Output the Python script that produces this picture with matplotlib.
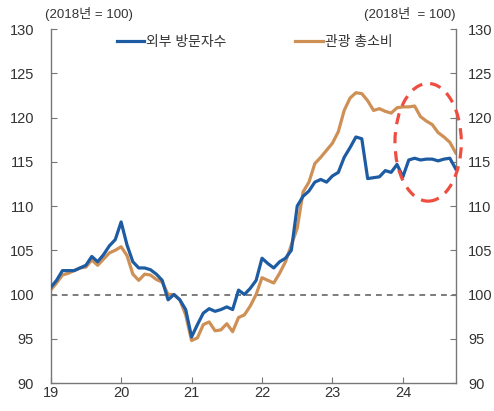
import matplotlib
matplotlib.use("Agg")
import matplotlib.pyplot as plt
import matplotlib.transforms as mtransforms
from matplotlib.patches import Ellipse
import numpy as np

plt.rcParams['font.family'] = ['Liberation Sans', 'Noto Sans CJK KR', 'DejaVu Sans']

# Monthly index, Jan 2019 .. Oct 2024 (2018 = 100)
visitors = [100.8, 101.6, 102.7, 102.7, 102.7, 103.0, 103.3, 104.3, 103.7, 104.5,
            105.5, 106.2, 108.2, 105.6, 103.7, 103.0, 103.0, 102.8, 102.3, 101.6,
            99.4, 100.0, 99.4, 98.3, 95.2, 96.6, 97.9, 98.4, 98.1, 98.3,
            98.6, 98.3, 100.5, 100.0, 100.7, 101.6, 104.1, 103.5, 103.0, 103.7,
            104.1, 105.0, 110.0, 111.1, 111.7, 112.7, 113.0, 112.7, 113.4, 113.8,
            115.5, 116.6, 117.8, 117.6, 113.1, 113.2, 113.3, 114.0, 113.8, 114.7,
            113.3, 115.2, 115.4, 115.2, 115.3, 115.3, 115.1, 115.3, 115.4, 114.2]
consumption = [100.5, 101.3, 102.2, 102.4, 102.7, 103.0, 103.1, 103.9, 103.3, 104.0,
               104.7, 105.0, 105.4, 104.4, 102.3, 101.6, 102.3, 102.2, 101.7, 101.4,
               100.0, 100.0, 99.4, 97.7, 94.8, 95.1, 96.6, 96.9, 95.9, 96.0,
               96.7, 95.8, 97.4, 97.7, 98.7, 100.0, 101.9, 101.6, 101.3, 102.4,
               103.7, 105.6, 107.5, 111.6, 112.7, 114.8, 115.5, 116.3, 117.1, 118.4,
               120.8, 122.2, 122.8, 122.7, 121.9, 120.8, 121.0, 120.7, 120.5, 121.1,
               121.2, 121.2, 121.3, 120.1, 119.6, 119.2, 118.3, 117.8, 117.2, 116.0]
year_labels = ['19', '20', '21', '22', '23', '24']
y_ticks = [90, 95, 100, 105, 110, 115, 120, 125, 130]
series_names = ['외부 방문자수', '관광 총소비']

x = np.arange(len(visitors))

fig = plt.figure(figsize=(4.94, 4.11), dpi=100)
ax = fig.add_axes([0.1026, 0.0681, 0.8199, 0.8613])

blue = '#1d5ca3'
orange = '#cf9056'
ax.plot(x, visitors, color=blue, lw=2.3, label=series_names[0], zorder=3)
ax.plot(x, consumption, color=orange, lw=2.3, label=series_names[1], zorder=2)
ax.axhline(100, color='#666666', lw=1.2, ls=(0, (3.5, 3)), zorder=1)

ell = Ellipse((64.3, 117.2), width=11.3, height=13.3, fill=False,
              edgecolor='#ee4d3f', lw=2.3, ls=(0, (3.5, 2.5)), zorder=4, clip_on=False)
ax.add_patch(ell)

ax.set_xlim(0, 69)
ax.set_ylim(90, 130)
ax.set_xticks(np.arange(0, 61, 12))
ax.set_xticklabels(year_labels)
ax.set_yticks(y_ticks)

for s in ['left', 'right', 'bottom']:
    ax.spines[s].set_color('#777777')
    ax.spines[s].set_linewidth(1.0)
ax.spines['top'].set_visible(False)

ax.tick_params(axis='y', direction='in', length=4, color='#777777',
               labelsize=10.5, labelcolor='#333333', right=True, labelright=True, pad=12)
ax.tick_params(axis='x', direction='in', length=4, color='#777777',
               labelsize=10.5, labelcolor='#333333', pad=2)

offset = mtransforms.ScaledTranslation(-3 / 72, 0, fig.dpi_scale_trans)
for t in ax.yaxis.get_major_ticks():
    t.label2.set_transform(t.label2.get_transform() + offset)

ax.legend(loc='center', bbox_to_anchor=(0.503, 0.963), ncol=2, frameon=False,
          fontsize=10, handlelength=2.0, handletextpad=0.15, columnspacing=4.9,
          labelcolor='#333333')

fig.text(45 / 494, 1 - 14 / 411, '(2018년 = 100)', ha='left', va='center',
         fontsize=9.5, color='#333333')
fig.text(455 / 494, 1 - 14 / 411, '(2018년  = 100)', ha='right', va='center',
         fontsize=9.5, color='#333333')

fig.savefig('out.png', dpi=100)
